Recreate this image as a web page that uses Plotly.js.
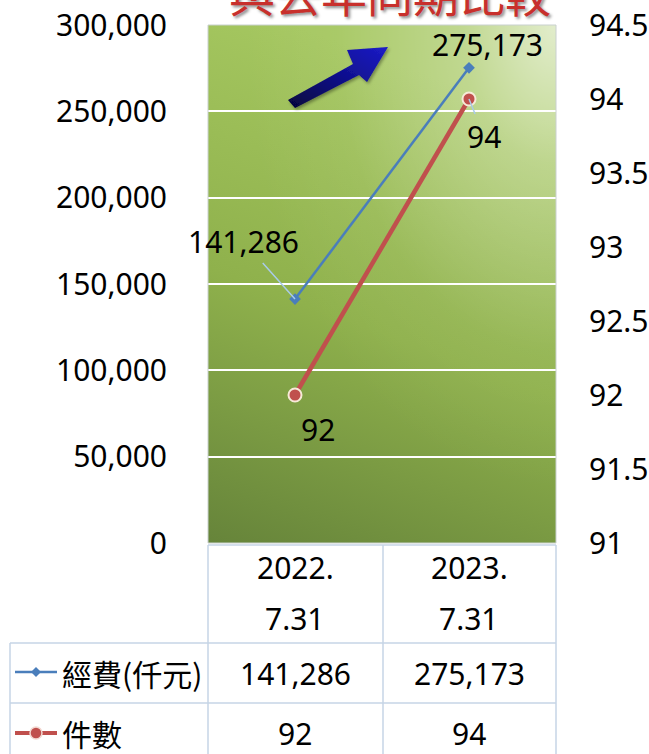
<!DOCTYPE html>
<html>
<head>
<meta charset="utf-8">
<script src="https://cdn.plot.ly/plotly-3.0.1.min.js"></script>
<style>html,body{margin:0;padding:0;background:#fff;}#chart{width:649px;height:754px;}</style>
</head>
<body>
<div id="chart"></div>
<script>
// ---- data ----
const catLine1 = ['2022.', '2023.'];
const catLine2 = ['7.31', '7.31'];
const categories = catLine1.map((a, i) => a + catLine2[i]);
const seriesNames = ['經費(仟元)', '件數'];
const spending = [141286, 275173];
const cases = [92, 94];
const titleText = '與去年同期比較';

// ---- geometry helpers (plot area in pixels) ----
const L = 208, R = 556, T = 25, B = 543;
const W = R - L, H = B - T;
const px = x => (x - L) / W;
const py = y => (B - y) / H;

const NUM = 'Noto Sans, DejaVu Sans, sans-serif';
const CJK = 'Noto Sans CJK TC, Noto Sans, sans-serif';
const fmt = v => v.toLocaleString('en-US');

const blue = '#4a7ebb';
const red = '#c0504d';
const gridBlue = '#c6d4e6';

// background gradient as svg image
const svg = "<svg xmlns='http://www.w3.org/2000/svg' width='348' height='518' viewBox='0 0 348 518' preserveAspectRatio='none'>" +
  "<defs>" +
  "<linearGradient id='g' x1='0.25' y1='0' x2='0' y2='1'>" +
  "<stop offset='0' stop-color='#a5c760'/><stop offset='0.5' stop-color='#8fb14c'/><stop offset='1' stop-color='#66843a'/></linearGradient>" +
  "<radialGradient id='r' cx='1' cy='0' r='0.9'>" +
  "<stop offset='0' stop-color='#ffffff' stop-opacity='0.68'/><stop offset='0.3' stop-color='#ffffff' stop-opacity='0.3'/><stop offset='0.7' stop-color='#ffffff' stop-opacity='0.05'/><stop offset='1' stop-color='#ffffff' stop-opacity='0'/></radialGradient>" +
  "</defs>" +
  "<rect width='348' height='518' fill='url(#g)'/><rect width='348' height='518' fill='url(#r)'/></svg>";
const bgSrc = 'data:image/svg+xml;charset=utf-8,' + encodeURIComponent(svg);

// decorative arrow (plot-local pixel coordinates) with gradient fill
const arrowPts = [[288,100],[353,64],[347,50],[388,47],[367,82],[359,75],[295,108]]
  .map(p => (p[0] - L) + ',' + (p[1] - T)).join(' ');
const arrowSvg = "<svg xmlns='http://www.w3.org/2000/svg' width='348' height='518' viewBox='0 0 348 518' preserveAspectRatio='none'>" +
  "<defs><linearGradient id='a' x1='0' y1='1' x2='1' y2='0'>" +
  "<stop offset='0' stop-color='#05053a'/><stop offset='0.55' stop-color='#101090'/><stop offset='1' stop-color='#1c1cc8'/></linearGradient>" +
  "<filter id='s' x='-20%' y='-20%' width='140%' height='140%'><feDropShadow dx='1.5' dy='2' stdDeviation='1.5' flood-color='#000' flood-opacity='0.35'/></filter></defs>" +
  "<polygon points='" + arrowPts + "' fill='url(#a)' filter='url(#s)'/></svg>";
const arrowSrc = 'data:image/svg+xml;charset=utf-8,' + encodeURIComponent(arrowSvg);

const traces = [
  {
    x: categories, y: spending, name: seriesNames[0], yaxis: 'y',
    type: 'scatter', mode: 'lines+markers',
    line: {color: blue, width: 2.5},
    marker: {symbol: 'diamond', size: 9, color: blue},
    hoverinfo: 'skip'
  },
  {
    x: categories, y: cases, name: seriesNames[1], yaxis: 'y2',
    type: 'scatter', mode: 'lines+markers',
    line: {color: red, width: 4.5},
    marker: {symbol: 'circle', size: 13, color: red, line: {color: '#f6ead8', width: 2}},
    hoverinfo: 'skip'
  }
];

const annotations = [];
// title (cut off at top, as in the original)
annotations.push({
  xref: 'paper', yref: 'paper', x: px(390), y: py(-8), xanchor: 'center', yanchor: 'middle',
  text: titleText, showarrow: false,
  font: {family: CJK, size: 46, color: '#c8302c', shadow: '2px 2px 3px rgba(0,0,0,0.45)'}
});
// data labels
annotations.push({x: categories[0], y: spending[0], xref: 'x', yref: 'y', text: fmt(spending[0]),
  showarrow: true, arrowhead: 0, arrowwidth: 1.5, arrowcolor: '#a9cbe8', ax: -52, ay: -58, standoff: 0,
  font: {family: NUM, size: 30, color: '#000'}});
annotations.push({x: categories[1], y: spending[1], xref: 'x', yref: 'y', text: fmt(spending[1]),
  showarrow: false, xshift: 18, yshift: 23, font: {family: NUM, size: 30, color: '#000'}});
annotations.push({x: categories[0], y: cases[0], xref: 'x', yref: 'y2', text: String(cases[0]),
  showarrow: false, xshift: 23, yshift: -34, font: {family: NUM, size: 30, color: '#000'}});
annotations.push({x: categories[1], y: cases[1], xref: 'x', yref: 'y2', text: String(cases[1]),
  showarrow: true, arrowhead: 0, arrowwidth: 1.5, arrowcolor: '#a9cbe8', ax: 15, ay: 37, standoff: 0,
  font: {family: NUM, size: 30, color: '#000'}});

// table header and values
categories.forEach((c, i) => {
  annotations.push({x: c, xref: 'x', yref: 'paper', y: py(567), text: catLine1[i], showarrow: false,
    yanchor: 'middle', font: {family: NUM, size: 30, color: '#000'}});
  annotations.push({x: c, xref: 'x', yref: 'paper', y: py(618), text: catLine2[i], showarrow: false,
    yanchor: 'middle', font: {family: NUM, size: 30, color: '#000'}});
  annotations.push({x: c, xref: 'x', yref: 'paper', y: py(673), text: fmt(spending[i]), showarrow: false,
    yanchor: 'middle', font: {family: NUM, size: 30, color: '#000'}});
  annotations.push({x: c, xref: 'x', yref: 'paper', y: py(733), text: fmt(cases[i]), showarrow: false,
    yanchor: 'middle', font: {family: NUM, size: 30, color: '#000'}});
});
// row labels (legend)
const rowY = [673, 733];
seriesNames.forEach((n, i) => {
  annotations.push({xref: 'paper', yref: 'paper', x: px(60), y: py(rowY[i]), xanchor: 'left', yanchor: 'middle',
    text: n, showarrow: false, font: {family: CJK, size: 30, color: '#000'}});
});

const lineShape = (x0, y0, x1, y1, color, width) => ({
  type: 'line', xref: 'paper', yref: 'paper', x0: px(x0), y0: py(y0), x1: px(x1), y1: py(y1),
  line: {color: color, width: width}, layer: 'above'
});

const shapes = [
  // plot border
  {type: 'rect', xref: 'paper', yref: 'paper', x0: 0, y0: 0, x1: 1, y1: 1,
   line: {color: '#c9d0cf', width: 1}, layer: 'above'},
  // table lines
  lineShape(208, 545, 208, 760, gridBlue, 1.5),
  lineShape(383, 545, 383, 760, gridBlue, 1.5),
  lineShape(556, 545, 556, 760, gridBlue, 1.5),
  lineShape(208, 545, 556, 545, gridBlue, 1.5),
  lineShape(10, 643, 556, 643, gridBlue, 1.5),
  lineShape(10, 703, 556, 703, gridBlue, 1.5),
  lineShape(10, 643, 10, 760, gridBlue, 1.5),
  // legend keys
  lineShape(15, 672, 57, 672, blue, 2.5),
  {type: 'path', xref: 'paper', yref: 'paper', layer: 'above',
   path: 'M' + px(36) + ',' + py(667) + ' L' + px(41) + ',' + py(672) + ' L' + px(36) + ',' + py(677) +
         ' L' + px(31) + ',' + py(672) + ' Z', fillcolor: blue, line: {width: 0}},
  lineShape(15, 733, 57, 733, red, 4),
  {type: 'circle', xref: 'paper', yref: 'paper', layer: 'above',
   x0: px(30), x1: px(42), y0: py(727), y1: py(739), fillcolor: red, line: {color: '#f3d9d2', width: 1.5}}
];

const layout = {
  width: 649, height: 754, autosize: false,
  margin: {l: L, r: 649 - R, t: T, b: 754 - B, pad: 0},
  paper_bgcolor: '#ffffff', plot_bgcolor: 'rgba(0,0,0,0)',
  showlegend: false,
  xaxis: {type: 'category', range: [-0.5, 1.5], showticklabels: false, showgrid: false,
    zeroline: false, showline: false, ticks: '', fixedrange: true},
  yaxis: {range: [0, 300000], dtick: 50000, tickformat: ',d', showgrid: true, gridcolor: '#ffffff',
    gridwidth: 2, zeroline: false, showline: false, ticks: 'outside', ticklen: 34,
    tickcolor: 'rgba(0,0,0,0)', tickfont: {family: NUM, size: 30, color: '#000'}},
  yaxis2: {range: [91, 94.5], dtick: 0.5, overlaying: 'y', side: 'right', showgrid: false,
    zeroline: false, showline: false, ticks: 'outside', ticklen: 26, tickcolor: 'rgba(0,0,0,0)',
    tickfont: {family: NUM, size: 30, color: '#000'}},
  images: [
    {source: bgSrc, xref: 'paper', yref: 'paper', x: 0, y: 1, sizex: 1, sizey: 1,
     sizing: 'stretch', xanchor: 'left', yanchor: 'top', layer: 'below'},
    {source: arrowSrc, xref: 'paper', yref: 'paper', x: 0, y: 1, sizex: 1, sizey: 1,
     sizing: 'stretch', xanchor: 'left', yanchor: 'top', layer: 'above'}
  ],
  annotations: annotations,
  shapes: shapes
};

Plotly.newPlot('chart', traces, layout, {staticPlot: true, displayModeBar: false});
</script>
</body>
</html>
